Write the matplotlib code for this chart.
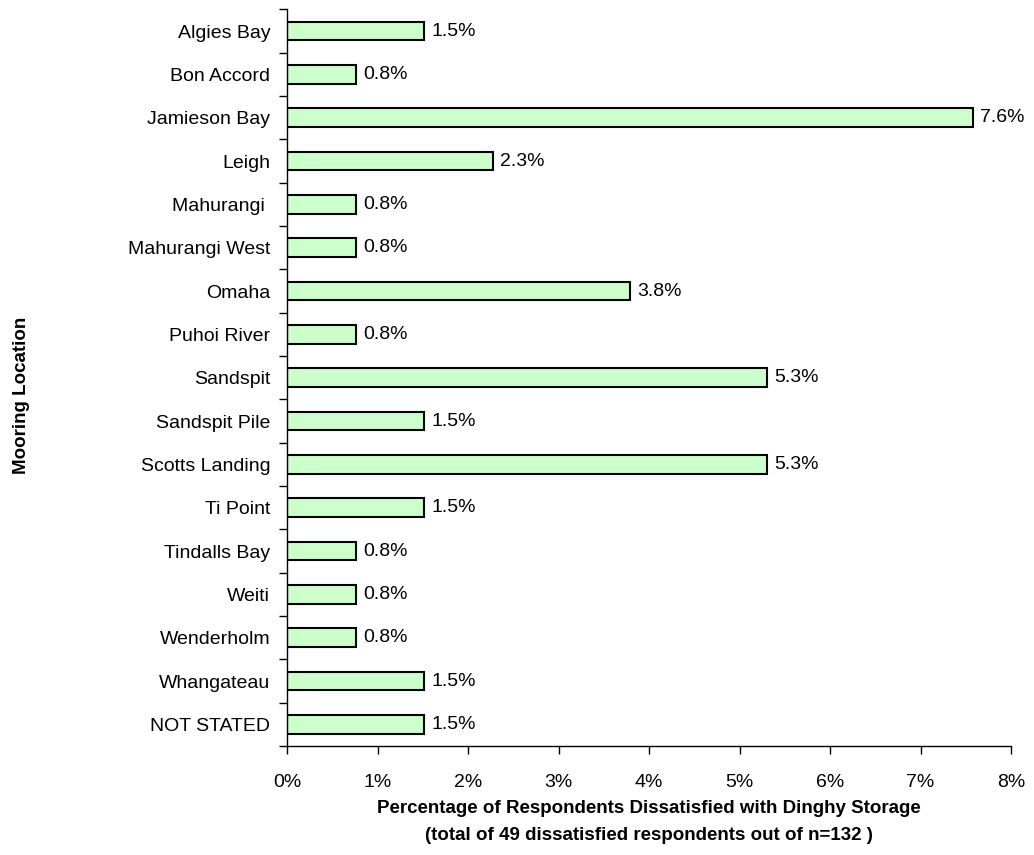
import numpy as np
import matplotlib.pyplot as plt
from matplotlib.ticker import FixedLocator

locations = ["Algies Bay", "Bon Accord", "Jamieson Bay", "Leigh", "Mahurangi ",
             "Mahurangi West", "Omaha", "Puhoi River", "Sandspit", "Sandspit Pile",
             "Scotts Landing", "Ti Point", "Tindalls Bay", "Weiti", "Wenderholm",
             "Whangateau", "NOT STATED"]
pct = [1.5, 0.8, 7.6, 2.3, 0.8, 0.8, 3.8, 0.8, 5.3, 1.5, 5.3, 1.5, 0.8, 0.8, 0.8, 1.5, 1.5]
# bar lengths (counts / 132)
counts = [2, 1, 10, 3, 1, 1, 5, 1, 7, 2, 7, 2, 1, 1, 1, 2, 2]
xticks = [0, 1, 2, 3, 4, 5, 6, 7, 8]

plt.rcParams['font.family'] = ['Liberation Sans', 'DejaVu Sans']

fig = plt.figure(figsize=(10.34, 8.55), dpi=100)
ax = fig.add_axes([0.2776, 0.1275, 0.7002, 0.8614])

n = len(locations)
y = np.arange(n)
vals = np.array(counts) / 132 * 100
ax.barh(y, vals, height=0.43, color="#ccffcc", edgecolor="black", linewidth=1.5)
for yi, v, p in zip(y, vals, pct):
    ax.text(v + 0.08, yi, f"{p:.1f}%", va="center", ha="left", fontsize=14)

ax.set_ylim(n - 0.5, -0.5)
ax.set_xlim(0, 8)
ax.set_yticks(y)
ax.set_yticklabels(locations, fontsize=14)
ax.yaxis.set_minor_locator(FixedLocator(np.arange(-0.5, n, 1.0)))
ax.tick_params(axis="y", which="major", length=0, pad=12)
ax.tick_params(axis="y", which="minor", length=6, width=1, direction="out")
ax.set_xticks(xticks)
ax.set_xticklabels([f"{t}%" for t in xticks], fontsize=14)
ax.tick_params(axis="x", length=6, width=1, direction="out", pad=14)

for s in ["top", "right"]:
    ax.spines[s].set_visible(False)
ax.spines["left"].set_linewidth(1)
ax.spines["bottom"].set_linewidth(1)

ax.set_xlabel("Percentage of Respondents Dissatisfied with Dinghy Storage\n"
              "(total of 49 dissatisfied respondents out of n=132 )",
              fontsize=13.5, fontweight="bold", labelpad=7, linespacing=1.75)
fig.text(0.021, 0.537, "Mooring Location", rotation=90, fontsize=13.5,
         fontweight="bold", ha="center", va="center")

fig.savefig("out.png", dpi=100)
